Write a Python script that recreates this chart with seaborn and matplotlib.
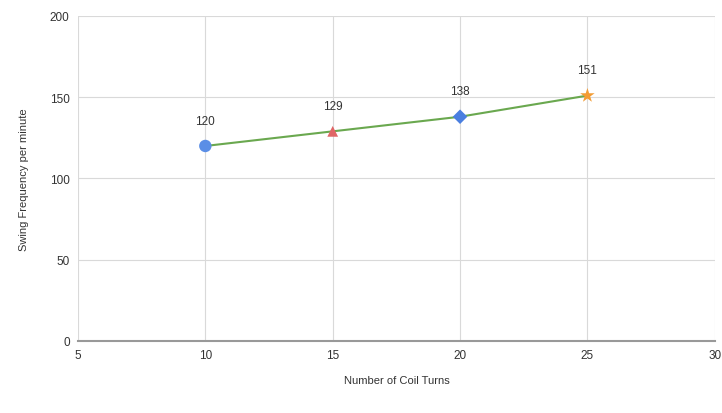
import matplotlib
matplotlib.use("Agg")
import matplotlib.pyplot as plt
import seaborn as sns
import pandas as pd

# data
coil_turns = [10, 15, 20, 25]
swing_freq = [120, 129, 138, 151]
point_markers = ["o", "^", "D", "*"]
point_colors = ["#5b8ee6", "#e06666", "#4a7fe0", "#f39c34"]
marker_sizes = [80, 60, 55, 120]

df = pd.DataFrame({"turns": coil_turns, "freq": swing_freq})

sns.set_style("whitegrid")
plt.rcParams["font.family"] = ["Liberation Sans", "DejaVu Sans"]

fig = plt.figure(figsize=(7.22, 4.14), dpi=100)
ax = fig.add_axes([0.108, 0.174, 0.882, 0.785])

sns.lineplot(data=df, x="turns", y="freq", ax=ax, color="#6aa84f", linewidth=1.5)
for x, y, m, c, s in zip(coil_turns, swing_freq, point_markers, point_colors, marker_sizes):
    sns.scatterplot(x=[x], y=[y], ax=ax, marker=m, color=c, s=s, edgecolor="none", zorder=3)
    ax.annotate(str(y), (x, y), xytext=(0, 14), textcoords="offset points",
                ha="center", va="bottom", fontsize=8.5, color="#333333")

ax.set_xlim(5, 30)
ax.set_ylim(0, 200)
ax.set_xticks([5, 10, 15, 20, 25, 30])
ax.set_yticks([0, 50, 100, 150, 200])
ax.grid(color="#d9d9d9", linewidth=0.8)
for side in ["top", "right", "left"]:
    ax.spines[side].set_visible(False)
ax.spines["bottom"].set_color("#999999")
ax.spines["bottom"].set_linewidth(1.5)
ax.tick_params(axis="both", labelsize=8.5, colors="#333333", length=0, pad=6)

ax.set_xlabel("Number of Coil Turns", fontsize=8, color="#333333", labelpad=10)
ax.set_ylabel("Swing Frequency per minute", fontsize=8, color="#333333", labelpad=15)

plt.savefig("out.png", dpi=100)
